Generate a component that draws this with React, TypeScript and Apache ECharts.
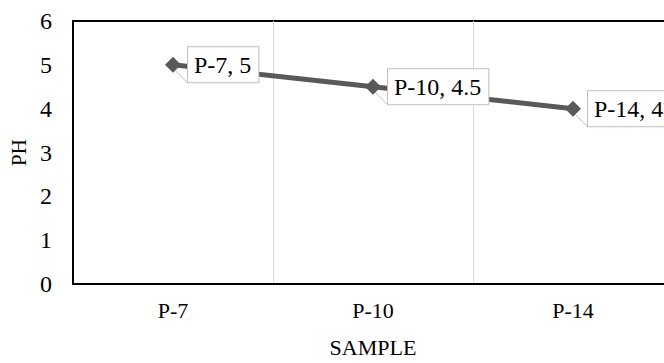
import React, { useEffect, useRef } from "react";
import * as echarts from "echarts";

const categories = ["P-7", "P-10", "P-14"];
const phValues = [5, 4.5, 4];
const yTicks = { min: 0, max: 6, interval: 1 };

const FONT = "Liberation Serif";

export default function App() {
  const ref = useRef<HTMLDivElement>(null);
  useEffect(() => {
    if (!ref.current) return;
    const chart = echarts.init(ref.current, undefined, { renderer: "svg" });
    chart.setOption({
      animation: false,
      backgroundColor: "#fff",
      textStyle: { fontFamily: FONT },
      grid: {
        left: 73,
        top: 21,
        right: 7,
        bottom: 70,
        show: true,
        borderColor: "#000",
        borderWidth: 2,
      },
      xAxis: {
        type: "category",
        data: categories,
        boundaryGap: true,
        name: "SAMPLE",
        nameLocation: "middle",
        nameGap: 52,
        nameTextStyle: { fontFamily: FONT, fontSize: 22, color: "#000" },
        axisLine: { show: true, lineStyle: { color: "#000", width: 2 } },
        axisTick: { show: false },
        axisLabel: { fontFamily: FONT, fontSize: 22, color: "#000", margin: 15 },
        splitLine: { show: true, lineStyle: { color: "#d9d9d9", width: 1 } },
      },
      yAxis: {
        type: "value",
        min: yTicks.min,
        max: yTicks.max,
        interval: yTicks.interval,
        name: "PH",
        nameLocation: "middle",
        nameGap: 40,
        nameRotate: 90,
        nameTextStyle: { fontFamily: FONT, fontSize: 21, color: "#000" },
        axisLine: { show: true, lineStyle: { color: "#000", width: 2 } },
        axisTick: { show: false },
        axisLabel: { fontFamily: FONT, fontSize: 24, color: "#000", margin: 21 },
        splitLine: { show: false },
      },
      series: [
        {
          type: "line",
          data: phValues,
          symbol: "diamond",
          symbolSize: 16,
          itemStyle: { color: "#595959" },
          lineStyle: { color: "#595959", width: 5 },
          label: {
            show: true,
            position: "right",
            distance: 7,
            formatter: "{b}, {c}",
            fontFamily: FONT,
            fontSize: 24,
            color: "#000",
            backgroundColor: "#fff",
            borderColor: "#bfbfbf",
            borderWidth: 1,
            padding: [6, 7, 5, 6],
          },
          labelLine: {
            show: true,
            lineStyle: { color: "#bfbfbf", width: 1 },
          },
        },
      ],
    });
    return () => chart.dispose();
  }, []);
  return (
    <div
      style={{
        position: "absolute",
        left: 0,
        top: 0,
        width: 664,
        height: 363,
        overflow: "hidden",
      }}
    >
      <div ref={ref} style={{ width: 680, height: 363 }} />
    </div>
  );
}
